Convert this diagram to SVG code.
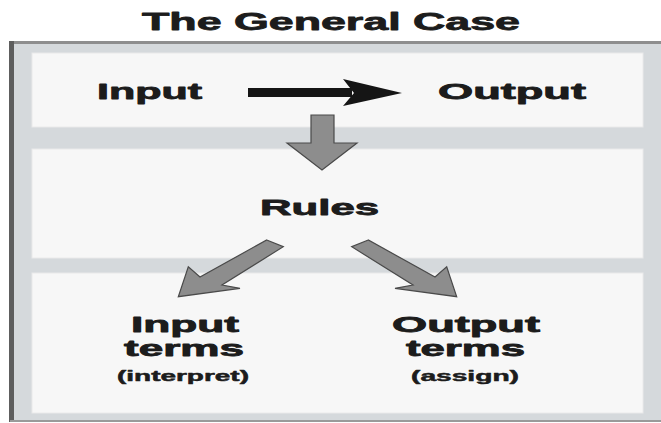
<svg xmlns="http://www.w3.org/2000/svg" width="661" height="423" viewBox="0 0 661 423">
  <style>
    .lbl { font-family: "Liberation Sans", Arial, sans-serif; font-weight: bold; fill: #1c1c1c; stroke: #1c1c1c; stroke-width: 0.8; stroke-linejoin: round; }
    .big { font-size: 22px; }
    .title { font-size: 24px; }
    .small { font-size: 15px; stroke-width: 0.5; }
    .panel { fill: #f7f7f7; stroke: #eaeaea; stroke-width: 1; }
    .fat { fill: #8d8d8d; stroke: #4a4a4a; stroke-width: 1.2; stroke-linejoin: miter; }
  </style>

  <rect x="0" y="0" width="661" height="423" fill="#ffffff"/>

  <!-- heading -->
  <text class="lbl title" x="142" y="30" textLength="378" lengthAdjust="spacingAndGlyphs">The General Case</text>

  <!-- outer frame -->
  <g id="frame">
    <rect x="10" y="41" width="651" height="381" fill="#d5d9dc"/>
    <rect x="10" y="41" width="651" height="3" fill="#8e8e8e"/>
    <rect x="9" y="41" width="5" height="381" fill="#5e5e5e"/>
    <rect x="10" y="420" width="651" height="2" fill="#9a9a9a"/>
  </g>

  <!-- top band: input to output -->
  <g id="io-panel">
    <rect class="panel" x="32" y="53" width="611" height="74"/>
    <text class="lbl big" x="97" y="99" textLength="105" lengthAdjust="spacingAndGlyphs">Input</text>
    <text class="lbl big" x="438" y="99" textLength="148" lengthAdjust="spacingAndGlyphs">Output</text>
  </g>

  <!-- middle band: rules -->
  <g id="rules-panel">
    <rect class="panel" x="32" y="149" width="611" height="109"/>
    <text class="lbl big" x="260" y="215" textLength="119" lengthAdjust="spacingAndGlyphs">Rules</text>
  </g>

  <!-- bottom band: terms -->
  <g id="terms-panel">
    <rect class="panel" x="32" y="273" width="611" height="140"/>
    <g id="input-terms">
      <text class="lbl big" x="131" y="332" textLength="108" lengthAdjust="spacingAndGlyphs">Input</text>
      <text class="lbl big" x="124" y="356" textLength="120" lengthAdjust="spacingAndGlyphs">terms</text>
      <text class="lbl small" x="117" y="381" textLength="132" lengthAdjust="spacingAndGlyphs">(interpret)</text>
    </g>
    <g id="output-terms">
      <text class="lbl big" x="392" y="332" textLength="148" lengthAdjust="spacingAndGlyphs">Output</text>
      <text class="lbl big" x="406" y="356" textLength="119" lengthAdjust="spacingAndGlyphs">terms</text>
      <text class="lbl small" x="411" y="381" textLength="108" lengthAdjust="spacingAndGlyphs">(assign)</text>
    </g>
  </g>

  <!-- connectors -->
  <g id="connectors">
    <!-- input to output -->
    <rect x="248" y="88" width="104" height="9" fill="#151515"/>
    <path d="M343,79 L402,93 L343,106 L354,93 Z" fill="#151515"/>
    <!-- down into rules -->
    <path class="fat" d="M311,115 L334,115 L334,143 L357,143 L322,170 L287,143 L311,143 Z"/>
    <!-- rules to input terms -->
    <path class="fat" d="M266.7,240 L283.3,246.7 L222,285 L240,288.3 L178.3,296.7 L188.3,266.7 L200,277 Z"/>
    <!-- rules to output terms (mirror) -->
    <path class="fat" transform="translate(635,0) scale(-1,1)" d="M266.7,240 L283.3,246.7 L222,285 L240,288.3 L178.3,296.7 L188.3,266.7 L200,277 Z"/>
  </g>
</svg>
